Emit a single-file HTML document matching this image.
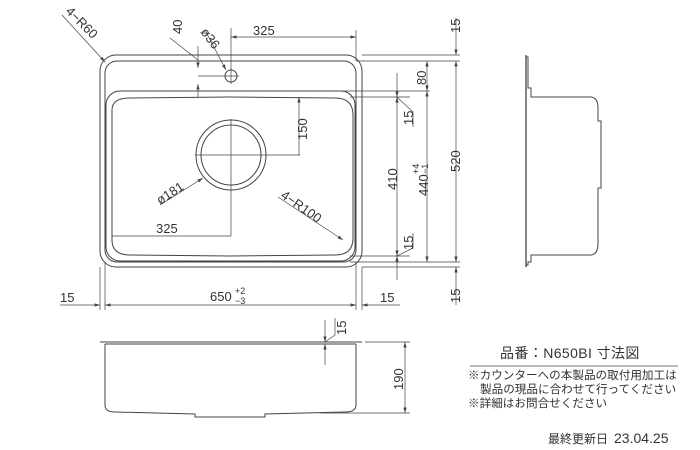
<!DOCTYPE html><html><head><meta charset="utf-8"><style>body{margin:0;background:#fff}svg{display:block}text{font-family:"Liberation Sans","Noto Sans CJK JP",sans-serif;fill:#333}</style></head><body>
<svg width="700" height="450" viewBox="0 0 700 450" stroke="#444" fill="none" stroke-width="1">
<defs><marker id="a" viewBox="0 0 10 6" refX="10" refY="3" markerWidth="8" markerHeight="5" orient="auto-start-reverse"><path d="M0,0L10,3L0,6" fill="#444" stroke="none"/></marker></defs>
<rect x="100" y="55" width="262" height="212" rx="16"/>
<rect x="105" y="61" width="251" height="201" rx="12"/>
<rect x="106" y="91" width="249" height="170" rx="14"/>
<path d="M112,110 Q112,98 130,98 L230,97 L335,98 Q353,98 353,115 L353,238 Q353,255 335,255 L230,256 L130,255 Q112,255 112,240 Z"/>
<circle cx="231" cy="155" r="35"/><circle cx="231" cy="155" r="30"/>
<path d="M195,155H300M231,119V195M231,195V236M112,236H231" stroke-width=".7"/>
<circle cx="231" cy="76" r="6"/><path d="M223,76H239M231,68V84M198,76H224" stroke-width=".7"/>
<g stroke-width=".7">
<path d="M231,28V70M356,30V61"/>
<path d="M231,37H356" marker-start="url(#a)" marker-end="url(#a)"/>
<path d="M198,46V68" marker-end="url(#a)"/><path d="M198,97V84" marker-end="url(#a)"/><path d="M198,60L170,38"/>
<path d="M205,30L226,70" marker-end="url(#a)"/>
<path d="M62,15L105,62" marker-end="url(#a)"/>
<path d="M299,155V97" marker-end="url(#a)"/>
<path d="M160,205L203,178" marker-end="url(#a)"/>
<path d="M278,197L343,240" marker-end="url(#a)"/>
<path d="M362,55H460M356,61H460M300,91H430M350,97H410M350,256H410M350,262H460M362,267H460"/>
<path d="M456,18V55" marker-end="url(#a)"/>
<path d="M456,61V262" marker-start="url(#a)" marker-end="url(#a)"/>
<path d="M456,305V267" marker-end="url(#a)"/>
<path d="M427,61V91" marker-start="url(#a)" marker-end="url(#a)"/>
<path d="M427,91V262" marker-start="url(#a)" marker-end="url(#a)"/>
<path d="M397,73V97" marker-end="url(#a)"/><path d="M397,97V256" marker-start="url(#a)" marker-end="url(#a)"/><path d="M397,280V256" marker-end="url(#a)"/>
<path d="M397,97L413,112V127M397,256L413,248V233"/>
<path d="M100,267V310M105,262V310M356,262V310M362,267V310"/>
<path d="M60,305H100" marker-end="url(#a)"/><path d="M105,305H356" marker-start="url(#a)" marker-end="url(#a)"/><path d="M400,305H362" marker-end="url(#a)"/>
</g>
<g font-size="13" stroke="none">
<text x="253" y="35">325</text><text x="156" y="233">325</text>
<text x="210" y="301">650</text><text x="235" y="294" font-size="9">+2</text><text x="235" y="304" font-size="9">−3</text>
<text x="60" y="302">15</text><text x="380" y="302">15</text>
<text transform="translate(307,140)rotate(-90)">150</text>
<text transform="translate(397,190)rotate(-90)">410</text>
<text transform="translate(428,196)rotate(-90)">440</text><text transform="translate(419,174)rotate(-90)" font-size="9">+4</text><text transform="translate(428,174)rotate(-90)" font-size="9">−1</text>
<text transform="translate(460,172)rotate(-90)">520</text>
<text transform="translate(426,85)rotate(-90)">80</text>
<text transform="translate(460,33)rotate(-90)">15</text><text transform="translate(460,303)rotate(-90)">15</text>
<text transform="translate(413,125)rotate(-90)">15</text><text transform="translate(413,250)rotate(-90)">15</text>
<text transform="translate(182,34)rotate(-90)">40</text>
<text transform="translate(200,32)rotate(53)">ø36</text>
<text transform="translate(65,12)rotate(45)">4−R60</text>
<text transform="translate(160,205)rotate(-33)">ø181</text>
<text transform="translate(280,197)rotate(35)">4−R100</text>
</g>
<path d="M100,342H362M105,344H356"/>
<path d="M105,344V405Q105,412 115,412L195,414V417H265V414L345,412Q356,412 356,405V344"/>
<g stroke-width=".7"><path d="M365,342H410M320,413H410"/><path d="M405,342V413" marker-start="url(#a)" marker-end="url(#a)"/>
<path d="M325,320V342" marker-end="url(#a)"/><path d="M325,365V344" marker-end="url(#a)"/><path d="M325,342L335,335V318"/></g>
<g font-size="13" stroke="none"><text transform="translate(346,335)rotate(-90)">15</text><text transform="translate(403,390)rotate(-90)">190</text></g>
<path d="M526,55V267" stroke-width="1.3"/>
<path d="M526,57H528V88H531V97H590Q598,97 598,108V121H601V188H598V243Q598,255 590,255H531V262H528V265H526"/>
<g stroke="none">
<text x="500" y="358" font-size="14" letter-spacing="0.4">品番：N650BI 寸法図</text>
<path d="M470,366H678" stroke="#444" stroke-width=".8"/>
<text x="468" y="379" font-size="11.6">※カウンターへの本製品の取付用加工は</text>
<text x="480" y="393" font-size="11.6">製品の現品に合わせて行ってください</text>
<text x="468" y="407" font-size="11.6">※詳細はお問合せください</text>
<text x="548" y="443" font-size="12">最終更新日</text><text x="614" y="443" font-size="14">23.04.25</text>
</g>
</svg></body></html>
